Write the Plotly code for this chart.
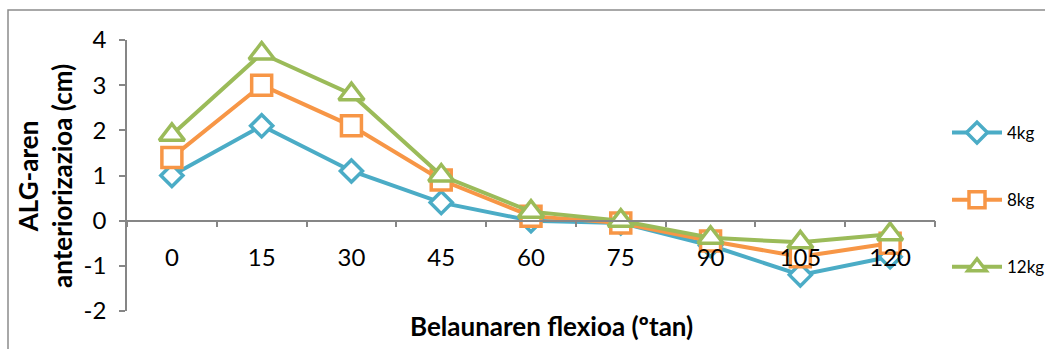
import plotly.graph_objects as go

categories = ["0", "15", "30", "45", "60", "75", "90", "105", "120"]
kg4 = [1.0, 2.1, 1.1, 0.4, 0.0, -0.05, -0.55, -1.2, -0.8]
kg8 = [1.4, 3.0, 2.1, 0.9, 0.1, -0.05, -0.45, -0.8, -0.5]
kg12 = [1.9, 3.7, 2.8, 1.0, 0.2, 0.0, -0.38, -0.48, -0.3]
series_names = ["4kg", "8kg", "12kg"]
y_ticks = [-2, -1, 0, 1, 2, 3, 4]

colors = ["#4BACC6", "#F79646", "#9BBB59"]
symbols = ["diamond", "square", "triangle-up"]
sizes = [17, 20, 22]
FONT = "Lato"

fig = go.Figure()
for name, vals, c, s, sz in zip(series_names, [kg4, kg8, kg12], colors, symbols, sizes):
    fig.add_trace(go.Scatter(
        x=categories, y=vals, name=name, mode="lines+markers",
        legendgroup=name,
        line=dict(color=c, width=4),
        marker=dict(symbol=s, size=sz, color="white", line=dict(color=c, width=3.5)),
    ))

W, H = 1045, 349
L, R, T, B = 127, 110, 40, 38
pw = W - L - R
ph = H - T - B

fig.update_layout(
    width=W, height=H,
    margin=dict(l=L, r=R, t=T, b=B, autoexpand=False),
    paper_bgcolor="white", plot_bgcolor="white",
    font=dict(family=FONT, size=24, color="black"),
    showlegend=True,
    legend=dict(
        x=(947 - L) / pw, xanchor="left", y=(H - B - 115) / ph, yanchor="top",
        font=dict(family=FONT, size=17, color="black"),
        bgcolor="rgba(0,0,0,0)", traceorder="grouped", tracegroupgap=42,
        itemwidth=50,
    ),
    xaxis=dict(
        type="category", categoryorder="array", categoryarray=categories,
        range=[-0.5, 8.5], anchor="free", position=2 / 6,
        showline=True, linecolor="#868686", linewidth=1.5,
        ticks="outside", tickson="boundaries", ticklen=6, tickcolor="#868686", tickwidth=1.5,
        ticklabelstandoff=16,
        tickfont=dict(family=FONT, size=24, color="black"),
        showgrid=False, zeroline=False,
    ),
    yaxis=dict(
        range=[-2, 4], tickvals=y_ticks, ticktext=[str(v) for v in y_ticks], domain=[0, 1],
        showline=True, linecolor="#868686", linewidth=1.5,
        ticks="outside", ticklen=6, tickcolor="#868686", tickwidth=1.5,
        ticklabelstandoff=8,
        tickfont=dict(family=FONT, size=24, color="black"),
        showgrid=False, zeroline=False,
    ),
    annotations=[
        dict(text="<b>ALG-aren<br>anteriorizazioa (cm)</b>", textangle=-90,
             xref="paper", yref="paper", x=(45 - L) / pw, y=(H - B - 176) / ph,
             xanchor="center", yanchor="middle", showarrow=False,
             font=dict(family=FONT, size=26, color="black")),
        dict(text="<b>Belaunaren flexioa (ºtan)</b>",
             xref="paper", yref="paper", x=(551 - L) / pw, y=(H - B - 326) / ph,
             xanchor="center", yanchor="middle", showarrow=False,
             font=dict(family=FONT, size=26, color="black")),
    ],
    shapes=[
        dict(type="rect", xref="paper", yref="paper",
             x0=(8 - L) / pw, x1=1.3, y0=-0.3, y1=(H - B - 10) / ph,
             line=dict(color="#8c8c8c", width=1.5), fillcolor="rgba(0,0,0,0)", layer="below"),
    ],
)

fig.write_html("out.html", config={"displayModeBar": False},
               post_script="document.body.style.margin='0px';document.body.style.overflow='hidden';")
